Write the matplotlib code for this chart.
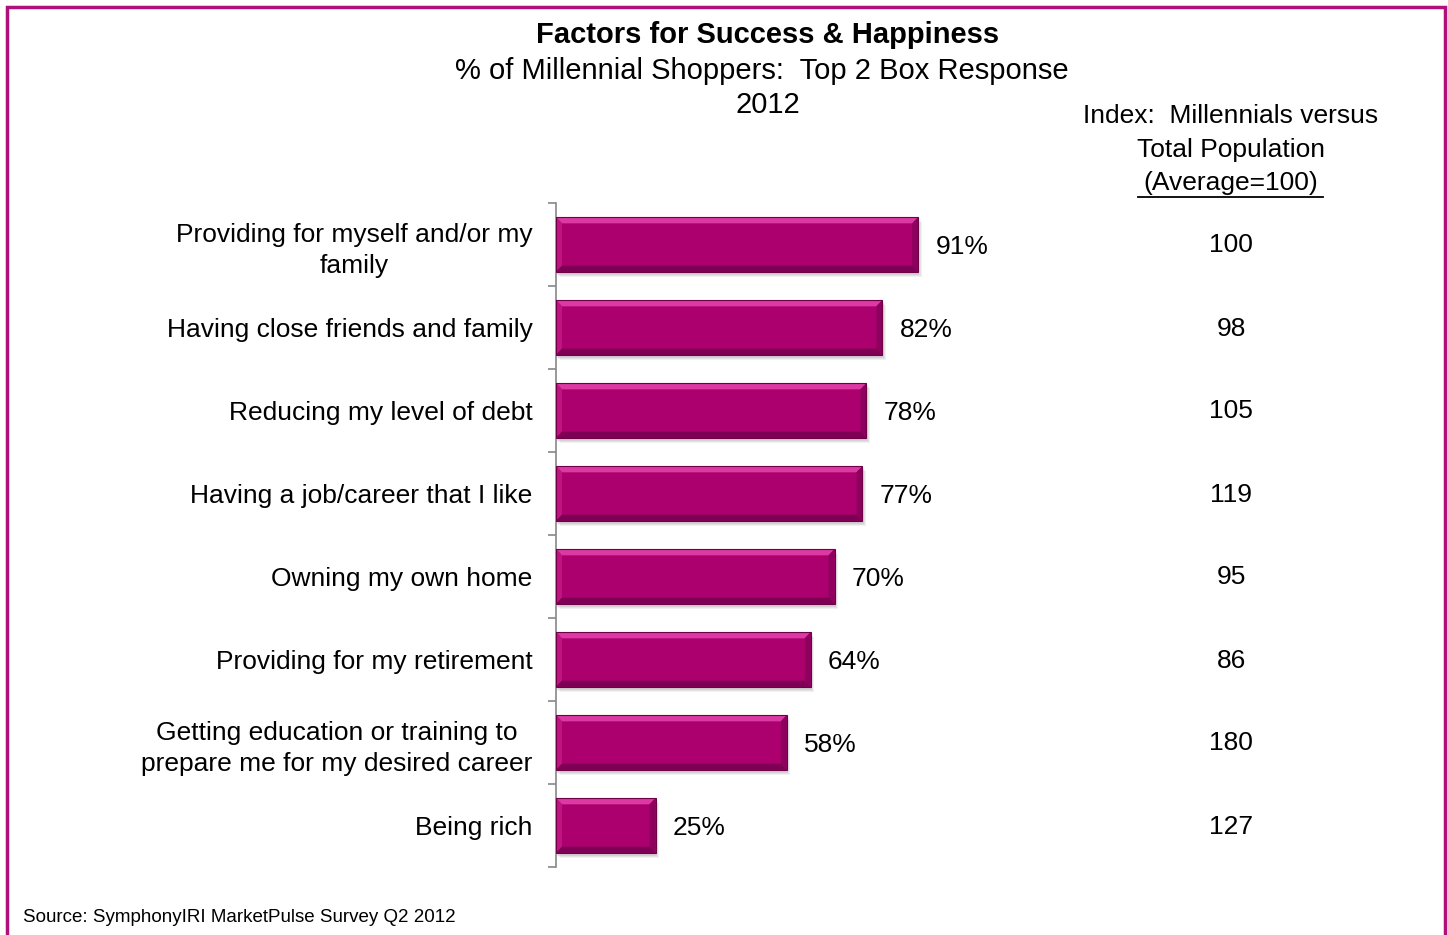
import matplotlib
matplotlib.use("Agg")
import matplotlib.pyplot as plt
from matplotlib.patches import Polygon
import numpy as np

plt.rcParams["font.family"] = ["Liberation Sans", "DejaVu Sans"]

factors = [
    "Providing for myself and/or my\nfamily",
    "Having close friends and family",
    "Reducing my level of debt",
    "Having a job/career that I like",
    "Owning my own home",
    "Providing for my retirement",
    "Getting education or training to\nprepare me for my desired career",
    "Being rich",
]
pct = [91, 82, 78, 77, 70, 64, 58, 25]
index_vals = [100, 98, 105, 119, 95, 86, 180, 127]

W, H = 1448, 935
fig = plt.figure(figsize=(W / 100, H / 100), dpi=100)

# full-figure overlay in pixel coords for frame and free text
bg = fig.add_axes([0, 0, 1, 1])
bg.set_xlim(0, W); bg.set_ylim(H, 0); bg.axis("off")
bg.plot([7, 7, 1445, 1445], [H + 5, 7, 7, H + 5], color="#B0107A", lw=2.5, solid_joinstyle="miter")

bg.text(768, 35, "Factors for Success & Happiness", ha="center", va="center",
        fontsize=21, fontweight="bold")
bg.text(762, 71, "% of Millennial Shoppers:  Top 2 Box Response", ha="center", va="center", fontsize=21)
bg.text(768, 105, "2012", ha="center", va="center", fontsize=21)
bg.text(1231, 116, "Index:  Millennials versus", ha="center", va="center", fontsize=19)
bg.text(1231, 150, "Total Population", ha="center", va="center", fontsize=19)
bg.text(1231, 183, "(Average=100)", ha="center", va="center", fontsize=19)
bg.plot([1138, 1323], [197, 197], color="black", lw=1.3)
bg.text(23, 917, "Source: SymphonyIRI MarketPulse Survey Q2 2012", ha="left", va="center", fontsize=13.5)

# bar chart axes
x0, x1 = 556, 954
y_top, y_bot = 203, 867
ax = fig.add_axes([x0 / W, (H - y_bot) / H, (x1 - x0) / W, (y_bot - y_top) / H])
ax.patch.set_alpha(0)
ax.set_xlim(0, 100)
ax.set_ylim(len(pct) - 0.5, -0.5)
y = np.arange(len(pct))
h = 0.66

# soft drop shadow
for k, a in enumerate([0.10, 0.12, 0.15]):
    ax.barh(y + 0.06 - 0.012 * k, pct, left=0.9 - 0.3 * k, height=h, color="#777777",
            alpha=a, lw=0, zorder=1)
bars = ax.barh(y, pct, height=h, color="#AD006F", lw=0, zorder=2)

# bevelled faces on each bar
bx = 1.5   # bevel width in % units (~6 px)
by = 0.075  # bevel height in category units (~6 px)
for r in bars:
    xa, ya = r.get_x(), r.get_y()
    xb, yb = xa + r.get_width(), ya + r.get_height()
    faces = [
        ([(xa, ya), (xb, ya), (xb - bx, ya + by), (xa + bx, ya + by)], "#DC3AA2"),  # top
        ([(xa, ya), (xa + bx, ya + by), (xa + bx, yb - by), (xa, yb)], "#C0147F"),  # left
        ([(xb, ya), (xb, yb), (xb - bx, yb - by), (xb - bx, ya + by)], "#8E005E"),  # right
        ([(xa, yb), (xb, yb), (xb - bx, yb - by), (xa + bx, yb - by)], "#7E0054"),  # bottom
    ]
    for pts, c in faces:
        ax.add_patch(Polygon(pts, closed=True, fc=c, ec="none", zorder=3))
    ax.add_patch(plt.Rectangle((xa, ya), xb - xa, yb - ya, fill=False, ec="#6E0048", lw=0.8, zorder=4))

for yi, p in zip(y, pct):
    ax.text(p + 4.3, yi, f"{p}%", ha="left", va="center_baseline", fontsize=19)

ax.set_yticks(y)
ax.set_yticklabels(factors, fontsize=19, multialignment="center")
for lab in ax.get_yticklabels():
    lab.set_linespacing(1.35)
ax.set_yticks(np.arange(len(pct) + 1) - 0.5, minor=True)
ax.tick_params(axis="y", which="major", length=0, pad=17)
ax.tick_params(axis="y", which="minor", length=6, color="#888888", width=1.2)
ax.set_xticks([])
for s in ["top", "right", "bottom"]:
    ax.spines[s].set_visible(False)
ax.spines["left"].set_color("#888888")
ax.spines["left"].set_linewidth(1.2)

# index column, aligned with the bar rows
for yi, idx in zip(y, index_vals):
    ypx = y_top + (yi + 0.5) * (y_bot - y_top) / len(pct)
    bg.text(1231, ypx + 1, str(idx), ha="center", va="center", fontsize=19)

fig.savefig("out.png", dpi=100)
